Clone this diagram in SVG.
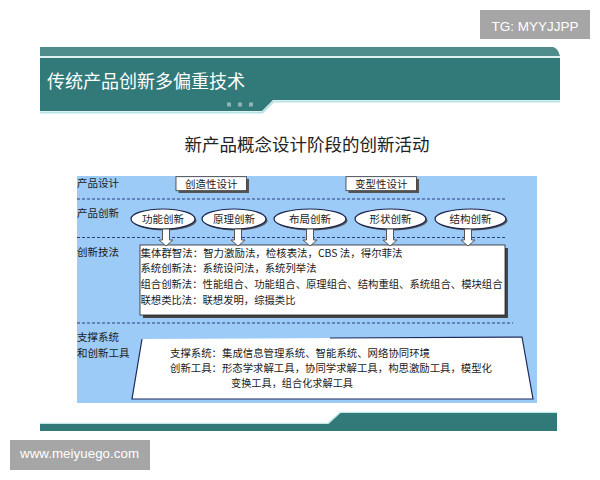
<svg xmlns="http://www.w3.org/2000/svg" width="600" height="480" viewBox="0 0 600 480">
<style>
.cjk{font-family:"Noto Sans CJK SC","Noto Sans",sans-serif;fill:#1a1a1a}
.s{font-size:10.5px}
.lbl{font-size:10.5px}
.el{fill:#ffffff;stroke:#1c2550;stroke-width:1.2}
.sh{fill:#555555}
.dash{stroke:#2b3d85;stroke-width:1;stroke-dasharray:3 2;fill:none}
.arrow{fill:#ffffff;stroke:#555555;stroke-width:1}
.wm{font-family:"Liberation Sans",Arial,sans-serif;fill:#ffffff}
</style>
<rect width="600" height="480" fill="#ffffff"/>
<!-- header -->
<g id="header">
<path d="M40,47 L553,47 Q558,48 560,56 L40,56 Z" fill="#4f8c8c"/>
<rect x="40" y="56.3" width="520" height="1.5" fill="#d6eeee"/>
<path d="M40,58 L560,58 L560,100 L273,100 L262,111 L40,111 Z" fill="#327a7a"/>
<polyline points="40,112.5 262.5,112.5 273.5,101.5 560,101.5" fill="none" stroke="#b9e3e3" stroke-width="2"/>
<rect x="227" y="102.5" width="4" height="4" fill="#8fb3b3"/>
<rect x="238" y="102.5" width="4" height="4" fill="#8fb3b3"/>
<rect x="249" y="102.5" width="4" height="4" fill="#8fb3b3"/>
<text x="47" y="88.3" class="cjk" style="fill:#ffffff;font-size:18px">传统产品创新多偏重技术</text>
</g>
<text x="307" y="150.7" class="cjk" text-anchor="middle" style="font-size:17.5px;fill:#222">新产品概念设计阶段的创新活动</text>
<!-- panel -->
<g id="panel">
<rect x="77" y="176" width="460" height="227" fill="#9dcbf7"/>
<line x1="77" y1="199" x2="505" y2="199" class="dash"/>
<line x1="77" y1="237.5" x2="505" y2="237.5" class="dash"/>
<line x1="77" y1="323" x2="513" y2="323" class="dash"/>
<text x="77" y="187" class="cjk lbl">产品设计</text>
<text x="77" y="217" class="cjk lbl">产品创新</text>
<text x="77" y="256" class="cjk lbl">创新技法</text>
<text x="77" y="341" class="cjk lbl">支撑系统</text>
<text x="77" y="357" class="cjk lbl">和创新工具</text>
</g>
<!-- design boxes -->
<g id="design1">
<rect x="178.5" y="179" width="70.5" height="14" class="sh"/>
<rect x="176" y="176.7" width="70.5" height="14" fill="#ffffff" stroke="#333" stroke-width="0.8"/>
<text x="211.2" y="187.7" class="cjk s" text-anchor="middle">创造性设计</text>
</g>
<g id="design2">
<rect x="348.5" y="179" width="70.5" height="14" class="sh"/>
<rect x="346" y="176.7" width="70.5" height="14" fill="#ffffff" stroke="#333" stroke-width="0.8"/>
<text x="381.2" y="187.7" class="cjk s" text-anchor="middle">变型性设计</text>
</g>
<!-- ellipses -->
<g id="e1"><ellipse cx="164.5" cy="220.5" rx="32" ry="10" class="sh"/><ellipse cx="163" cy="219" rx="32" ry="10" class="el"/><text x="163" y="223" class="cjk s" text-anchor="middle">功能创新</text></g>
<g id="e2"><ellipse cx="235.5" cy="220.5" rx="32" ry="10" class="sh"/><ellipse cx="234" cy="219" rx="32" ry="10" class="el"/><text x="234" y="223" class="cjk s" text-anchor="middle">原理创新</text></g>
<g id="e3"><ellipse cx="311.5" cy="220.5" rx="36" ry="10" class="sh"/><ellipse cx="310" cy="219" rx="36" ry="10" class="el"/><text x="310" y="223" class="cjk s" text-anchor="middle">布局创新</text></g>
<g id="e4"><ellipse cx="392" cy="220.5" rx="35.5" ry="10" class="sh"/><ellipse cx="390.5" cy="219" rx="35.5" ry="10" class="el"/><text x="390.5" y="223" class="cjk s" text-anchor="middle">形状创新</text></g>
<g id="e5"><ellipse cx="472" cy="220.5" rx="35.5" ry="10" class="sh"/><ellipse cx="470.5" cy="219" rx="35.5" ry="10" class="el"/><text x="470.5" y="223" class="cjk s" text-anchor="middle">结构创新</text></g>
<!-- methods box -->
<g id="methods">
<rect x="143" y="248" width="365" height="70" fill="#444444"/>
<rect x="140" y="245" width="365" height="70" fill="#ffffff" stroke="#222" stroke-width="0.8"/>
<text x="140.5" y="257" class="cjk s" textLength="262" lengthAdjust="spacingAndGlyphs">集体群智法：智力激励法，检核表法，CBS 法，得尔菲法</text>
<text x="140.5" y="272" class="cjk s" textLength="176" lengthAdjust="spacingAndGlyphs">系统创新法：系统设问法，系统列举法</text>
<text x="140.5" y="288" class="cjk s" textLength="362" lengthAdjust="spacingAndGlyphs">组合创新法：性能组合、功能组合、原理组合、结构重组、系统组合、模块组合</text>
<text x="140.5" y="304" class="cjk s" textLength="155" lengthAdjust="spacingAndGlyphs">联想类比法：联想发明，综摄类比</text>
</g>
<!-- tools -->
<g id="tools">
<polygon points="142,339 522,337 533,399 132,399" fill="#ffffff"/>
<polyline points="330,338 522,337 533,399 132,399 142,339" fill="none" stroke="#1c2a5e" stroke-width="1.2"/>
<text x="170" y="356.7" class="cjk s" textLength="260" lengthAdjust="spacingAndGlyphs">支撑系统：集成信息管理系统、智能系统、网络协同环境</text>
<text x="170" y="372" class="cjk s" textLength="322" lengthAdjust="spacingAndGlyphs">创新工具：形态学求解工具，协同学求解工具，构思激励工具，模型化</text>
<text x="231" y="387.3" class="cjk s" textLength="122" lengthAdjust="spacingAndGlyphs">变换工具，组合化求解工具</text>
</g>
<!-- connectors -->
<g id="connectors">
<path class="arrow" d="M162.5,229 L169.5,229 L169.5,240 L173,240 L166,246 L159,240 L162.5,240 Z"/>
<path class="arrow" d="M234.5,229 L241.5,229 L241.5,240 L245,240 L238,246 L231,240 L234.5,240 Z"/>
<path class="arrow" d="M306.5,229 L313.5,229 L313.5,240 L317,240 L310,246 L303,240 L306.5,240 Z"/>
<path class="arrow" d="M386.5,229 L393.5,229 L393.5,240 L397,240 L390,246 L383,240 L386.5,240 Z"/>
<path class="arrow" d="M464.5,229 L471.5,229 L471.5,240 L475,240 L468,246 L461,240 L464.5,240 Z"/>
</g>
<!-- footer -->
<g id="footer">
<polyline points="40,423.5 328,423.5 340,412.5 557,412.5" fill="none" stroke="#c3e8e8" stroke-width="1.5"/>
<path d="M40,424 L328.5,424 L340.5,413 L557,413 L557,431 L40,431 Z" fill="#327a7a"/>
</g>
<!-- watermarks -->
<rect x="480" y="10" width="110" height="29" fill="#a6a6a6"/>
<text x="491.5" y="30.5" class="wm" style="font-size:13.5px" textLength="87">TG: MYYJJPP</text>
<rect x="10" y="440" width="140" height="30" fill="#a6a6a6"/>
<text x="20" y="457.5" class="wm" style="font-size:13.3px" textLength="119">www.meiyuego.com</text>
</svg>
